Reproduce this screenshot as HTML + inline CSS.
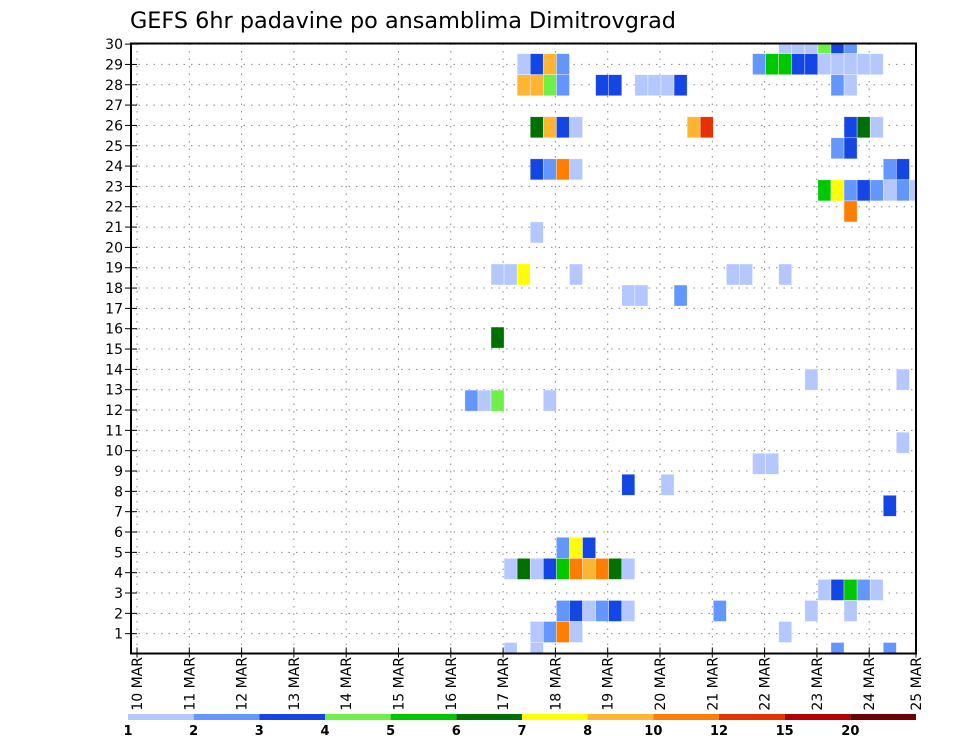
<!DOCTYPE html>
<html><head><meta charset="utf-8"><style>
html,body{margin:0;padding:0;background:#fff;}
svg text{font-family:"DejaVu Sans","Liberation Sans",sans-serif;fill:#000;}
</style></head><body>
<svg id="chart" width="960" height="742" viewBox="0 0 960 742" xmlns="http://www.w3.org/2000/svg">
<text x="130" y="28" font-size="22" textLength="546" lengthAdjust="spacingAndGlyphs">GEFS 6hr padavine po ansamblima Dimitrovgrad</text>
<g id="grid"></g>
<g id="cells"></g>
<rect x="131" y="43.5" width="785" height="610" fill="none" stroke="#000" stroke-width="2"/>
<g id="axes"></g>
<g id="cbar"></g>
</svg>
<script>
// data: 6-hour step index from 10 MAR 00z, ensemble member row, precip (mm)
const cellStep   = [49,50,51,52,53,54, 29,30,31,32,47,48,49,50,51,52,53,54,55,56, 29,30,31,32,35,36,38,39,40,41,53,54, 30,31,32,33,42,43,54,55,56, 53,54, 30,31,32,33,57,58, 52,53,54,55,56,57,58,59, 54, 30, 27,28,29,33,45,46,49, 37,38,41, 27, 51,58, 25,26,27,31, 58, 47,48, 37,40, 57, 32,33,34, 28,29,30,31,32,33,34,35,36,37, 52,53,54,55,56, 32,33,34,35,36,37,44,51,54, 30,31,32,33,49, 28,30,53,57];
const cellMember = [29,29,29,29,29,29, 28,28,28,28,28,28,28,28,28,28,28,28,28,28, 27,27,27,27,27,27,27,27,27,27,27,27, 25,25,25,25,25,25,25,25,25, 24,24, 23,23,23,23,23,23, 22,22,22,22,22,22,22,22, 21, 20, 18,18,18,18,18,18,18, 17,17,17, 15, 13,13, 12,12,12,12, 10, 9,9, 8,8, 7, 5,5,5, 4,4,4,4,4,4,4,4,4,4, 3,3,3,3,3, 2,2,2,2,2,2,2,2,2, 1,1,1,1,1, 0,0,0,0];
const cellValue  = [1.5,1.5,1.5,4.5,3.5,2.5, 1.5,3.5,9,2.5,2.5,5.5,5.5,3.5,3.5,1.5,1.5,1.5,1.5,1.5, 9,9,4.5,2.5,3.5,3.5,1.5,1.5,1.5,3.5,2.5,1.5, 6.5,9,3.5,1.5,9,13,3.5,6.5,1.5, 2.5,3.5, 3.5,2.5,11,1.5,2.5,3.5, 5.5,7.5,2.5,3.5,2.5,1.5,2.5,1.5, 11, 1.5, 1.5,1.5,7.5,1.5,1.5,1.5,1.5, 1.5,1.5,2.5, 6.5, 1.5,1.5, 2.5,1.5,4.5,1.5, 1.5, 1.5,1.5, 3.5,1.5, 3.5, 2.5,7.5,3.5, 1.5,6.5,1.5,3.5,5.5,11,9,11,6.5,1.5, 1.5,3.5,5.5,2.5,1.5, 2.5,3.5,1.5,2.5,3.5,1.5,2.5,1.5,1.5, 1.5,2.5,11,1.5,1.5, 1.5,1.5,2.5,2.5];
const yTickLabels = [1,2,3,4,5,6,7,8,9,10,11,12,13,14,15,16,17,18,19,20,21,22,23,24,25,26,27,28,29,30];
const xDayLabels = ["10 MAR","11 MAR","12 MAR","13 MAR","14 MAR","15 MAR","16 MAR","17 MAR","18 MAR","19 MAR","20 MAR","21 MAR","22 MAR","23 MAR","24 MAR","25 MAR"];
const levelBounds = [1,2,3,4,5,6,7,8,10,12,15,20];
const levelColors = ["#b4c8ff","#6496ff","#1446e6","#6ef046","#00c800","#007000","#ffff00","#ffb432","#ff7d00","#e63200","#b40000","#6e0000"];

const NS="http://www.w3.org/2000/svg";
const L=131,R=916,T=43.5,B=653.5;
const xStep=k=>138+k*13.075;
const yMemberCenter=m=>653-m*21.03;
const yLabel=r=>654-r*20.33;
function mk(tag,attrs,parent){const e=document.createElementNS(NS,tag);for(const a in attrs)e.setAttribute(a,attrs[a]);parent.appendChild(e);return e;}
function colorFor(v){let c=null;for(let i=0;i<levelBounds.length;i++){if(v>=levelBounds[i])c=levelColors[i];}return c;}

const grid=document.getElementById('grid');
yTickLabels.forEach(r=>{const l=mk('line',{x1:L,x2:R,y1:yLabel(r),y2:yLabel(r),stroke:'#888','stroke-width':1,'stroke-dasharray':'1.5,6'},grid);

});
xDayLabels.forEach((d,i)=>{const x=xStep(i*4)-1;if(x>R)return;const l=mk('line',{x1:x,x2:x,y1:T,y2:B,stroke:'#888','stroke-width':1,'stroke-dasharray':'1.5,6'},grid);

});

const cells=document.getElementById('cells');
const clip=mk('clipPath',{id:'pc'},document.getElementById('chart'));mk('rect',{x:L,y:T,width:R-L,height:B-T},clip);
cells.setAttribute('clip-path','url(#pc)');
for(let i=0;i<cellStep.length;i++){const c=colorFor(cellValue[i]);if(!c)continue;
const x=xStep(cellStep[i]);const y=yMemberCenter(cellMember[i])-10.5;
const r=mk('rect',{x:x,y:y,width:13.075,height:21.03,fill:c,stroke:'#fff','stroke-width':0.6,'stroke-opacity':0.6},cells);

}

const axes=document.getElementById('axes');
yTickLabels.forEach(r=>{const y=yLabel(r);mk('line',{x1:125,x2:137,y1:y,y2:y,stroke:'#000','stroke-width':1},axes);
const t=mk('text',{x:123,y:y+5,'text-anchor':'end','font-size':14},axes);t.textContent=r;

});
xDayLabels.forEach((d,i)=>{let x=xStep(i*4)-1;if(x>R)x=R;mk('line',{x1:x,x2:x,y1:B-6,y2:B+4,stroke:'#000','stroke-width':1},axes);
const t=mk('text',{x:0,y:0,'text-anchor':'end','font-size':14,transform:`translate(${x+5},657) rotate(-90)`},axes);t.textContent=d;

});

const cb=document.getElementById('cbar');
const segW=(R-128)/levelColors.length;
levelColors.forEach((c,i)=>{const r=mk('rect',{x:128+i*segW,y:714,width:segW,height:6,fill:c},cb);

});
levelBounds.forEach((b,i)=>{const t=mk('text',{x:128+i*segW,y:735,'text-anchor':'middle','font-size':13,'font-weight':'bold'},cb);t.textContent=b;

});
</script>
</body></html>
